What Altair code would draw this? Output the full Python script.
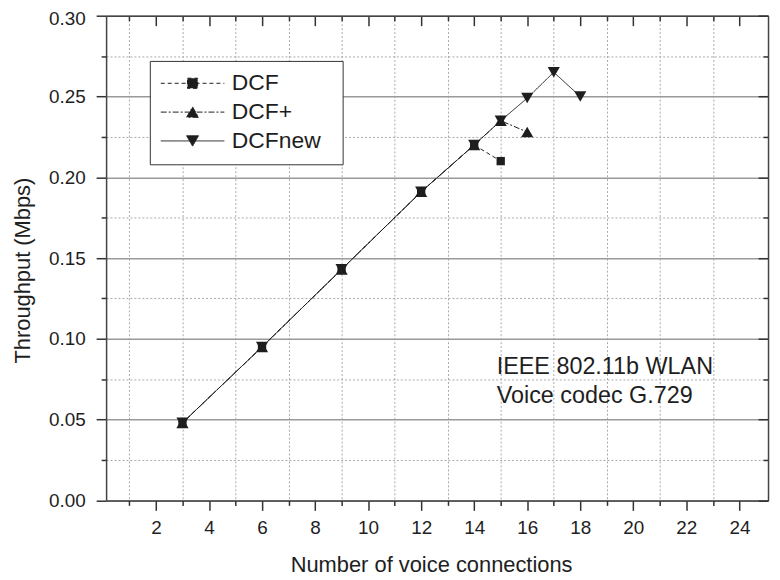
import altair as alt
import pandas as pd

# ---------------- data ----------------
series_names = ["DCF", "DCF+", "DCFnew"]

dcf_x = [3, 6, 9, 12, 14, 15]
dcf_y = [0.048, 0.095, 0.143, 0.191, 0.220, 0.210]

dcfp_x = [3, 6, 9, 12, 14, 15, 16]
dcfp_y = [0.048, 0.095, 0.143, 0.191, 0.220, 0.235, 0.228]

dcfn_x = [3, 6, 9, 12, 14, 15, 16, 17, 18]
dcfn_y = [0.048, 0.095, 0.143, 0.191, 0.220, 0.235, 0.249, 0.265, 0.250]

x_major = [2, 4, 6, 8, 10, 12, 14, 16, 18, 20, 22, 24]
x_minor = [1, 3, 5, 7, 9, 11, 13, 15, 17, 19, 21, 23]
y_major = [0.0, 0.05, 0.10, 0.15, 0.20, 0.25, 0.30]
y_minor = [0.025, 0.075, 0.125, 0.175, 0.225, 0.275]
y_top_label = [0.30]

ann_lines = ["IEEE 802.11b WLAN", "Voice codec G.729"]
ann_x = [14.85, 14.85]
ann_y = [0.0827, 0.0643]

x_domain = [0.12, 25.08]
y_domain = [0.0, 0.30]

# ---------------- styles ----------------
FONT = "Liberation Sans"
INK = "#1e1e1e"
AX = "#333333"

dash_styles = {"DCF": [4, 3], "DCF+": [6, 2, 2, 2], "DCFnew": [1, 0]}
point_shapes = {"DCF": "square", "DCF+": "triangle-up", "DCFnew": "triangle-down"}
point_sizes = {"DCF": 70, "DCF+": 150, "DCFnew": 150}
# legend glyphs: line through a marker (unit = 6 px); the trailing moveTo only widens the box
legend_paths = [
    "M-5.33,0H5.33M-0.85,-0.85H0.85V0.85H-0.85ZM23,0",
    "M-5.33,0H5.33M0,-0.87L1,0.87L-1,0.87ZM23,0",
    "M-5.33,0H5.33M0,0.87L1,-0.87L-1,-0.87ZM23,0",
]

xs = alt.Scale(domain=x_domain, nice=False, zero=False)
ys = alt.Scale(domain=y_domain, nice=False, zero=False)


def axis(**kw):
    base = dict(title=None, labels=False, ticks=False, domain=False, grid=False,
                labelFlush=False, labelOverlap=False)
    base.update(kw)
    return alt.Axis(**base)


bottom_major = axis(orient="bottom", values=x_major, ticks=True, tickSize=10, tickWidth=1.5,
                    tickColor=AX, labels=True, labelFontSize=19, labelFont=FONT,
                    labelColor=INK, labelPadding=8, domain=True, domainColor="#444",
                    domainWidth=1.5, title="Number of voice connections", titleFontSize=22,
                    titleFont=FONT, titleFontWeight="normal", titleColor=INK,
                    titlePadding=18, titleX=327)
bottom_minor = axis(orient="bottom", values=x_minor, ticks=True, tickSize=5, tickWidth=1.5,
                    tickColor=AX, grid=True, gridColor="#a8a8a8", gridDash=[2, 2], gridWidth=1)
top_major = axis(orient="top", offset=-10, values=x_major, ticks=True, tickSize=10,
                 tickWidth=1.5, tickColor=AX)
top_minor = axis(orient="top", offset=-5, values=x_minor, ticks=True, tickSize=5,
                 tickWidth=1.5, tickColor=AX)
top_border = axis(orient="top", domain=True, domainColor="#444", domainWidth=1.5)

left_major = axis(orient="left", values=y_major, format=".2f", ticks=True, tickSize=10,
                  tickWidth=1.5, tickColor=AX, labels=True, labelFontSize=19,
                  labelFont=FONT, labelColor=INK, labelPadding=11, domain=True,
                  domainColor="#444", domainWidth=1.5, grid=True, gridColor="#9a9a9a",
                  gridWidth=1.5, title="Throughput (Mbps)", titleFontSize=22,
                  titleFont=FONT, titleFontWeight="normal", titleColor=INK,
                  titlePadding=14, titleY=256,
                  labelExpr="datum.value > 0.29 ? '' : datum.label")
left_top_label = axis(orient="left", values=y_top_label, format=".2f", labels=True,
                      labelFontSize=19, labelFont=FONT, labelColor=INK,
                      labelPadding=21, labelOffset=3)
left_minor = axis(orient="left", values=y_minor, ticks=True, tickSize=5, tickWidth=1.5,
                  tickColor=AX, grid=True, gridColor="#a8a8a8", gridDash=[2, 2], gridWidth=1)
right_major = axis(orient="right", offset=-10, values=y_major, ticks=True, tickSize=10,
                   tickWidth=1.5, tickColor=AX)
right_minor = axis(orient="right", offset=-5, values=y_minor, ticks=True, tickSize=5,
                   tickWidth=1.5, tickColor=AX)
right_border = axis(orient="right", domain=True, domainColor="#444", domainWidth=1.5)

# ---------------- data frames ----------------
frames = {
    "DCF": pd.DataFrame({"x": dcf_x, "y": dcf_y, "series": "DCF"}),
    "DCF+": pd.DataFrame({"x": dcfp_x, "y": dcfp_y, "series": "DCF+"}),
    "DCFnew": pd.DataFrame({"x": dcfn_x, "y": dcfn_y, "series": "DCFnew"}),
}

line_axes = {
    "DCF": (bottom_major, left_major),
    "DCF+": (bottom_minor, left_minor),
    "DCFnew": (top_major, right_major),
}
point_axes = {
    "DCF": (None, left_top_label),
    "DCF+": (None, None),
    "DCFnew": (None, None),
}

layers = []
for name in series_names:
    xa, ya = line_axes[name]
    layers.append(
        alt.Chart(frames[name]).mark_line(color=INK, strokeWidth=1,
                                          strokeDash=dash_styles[name]).encode(
            x=alt.X("x:Q", scale=xs, axis=xa),
            y=alt.Y("y:Q", scale=ys, axis=ya),
        )
    )
for name in series_names:
    xa, ya = point_axes[name]
    layers.append(
        alt.Chart(frames[name]).mark_point(shape=point_shapes[name], filled=True,
                                           color=INK, opacity=1,
                                           size=point_sizes[name]).encode(
            x=alt.X("x:Q", scale=xs, axis=xa),
            y=alt.Y("y:Q", scale=ys, axis=ya),
        )
    )

leg_df = pd.DataFrame({"series": series_names,
                       "x": [dcf_x[0], dcfp_x[0], dcfn_x[0]],
                       "y": [dcf_y[0], dcfp_y[0], dcfn_y[0]]})

legend = alt.Legend(title=None, orient="none", legendX=44, legendY=45.5,
                    direction="vertical", fillColor="white", strokeColor="#333",
                    padding=11, rowPadding=5, labelFontSize=23, labelFont=FONT,
                    labelColor=INK, labelOffset=28, symbolOffset=20.5, symbolSize=144,
                    symbolStrokeWidth=1, symbolOpacity=1)

legend_layer = alt.Chart(leg_df).mark_point(filled=False, fill=INK, stroke=INK,
                                            strokeWidth=1, opacity=0, size=144).encode(
    x=alt.X("x:Q", scale=xs, axis=top_minor),
    y=alt.Y("y:Q", scale=ys, axis=right_minor),
    shape=alt.Shape("series:N", scale=alt.Scale(domain=series_names, range=legend_paths),
                    legend=legend),
    strokeDash=alt.StrokeDash("series:N",
                              scale=alt.Scale(domain=series_names,
                                              range=[dash_styles[n] for n in series_names]),
                              legend=legend),
)
layers.append(legend_layer)

ann_df = pd.DataFrame({"t": ann_lines, "x": ann_x, "y": ann_y})
text_layer = alt.Chart(ann_df).mark_text(align="left", baseline="middle", fontSize=23.5,
                                         font=FONT, color=INK).encode(
    x=alt.X("x:Q", scale=xs, axis=top_border),
    y=alt.Y("y:Q", scale=ys, axis=right_border),
    text="t:N",
)
layers.append(text_layer)

chart = alt.layer(*layers).resolve_axis(x="independent", y="independent").properties(
    width=666, height=487.7,
    padding={"left": 98.7, "top": 6, "right": 4, "bottom": 76},
    autosize=alt.AutoSizeParams(type="none"),
    background="white",
).configure_view(stroke=None).configure(font=FONT)

chart.save("out.html", embed_options={"renderer": "svg", "actions": False})
